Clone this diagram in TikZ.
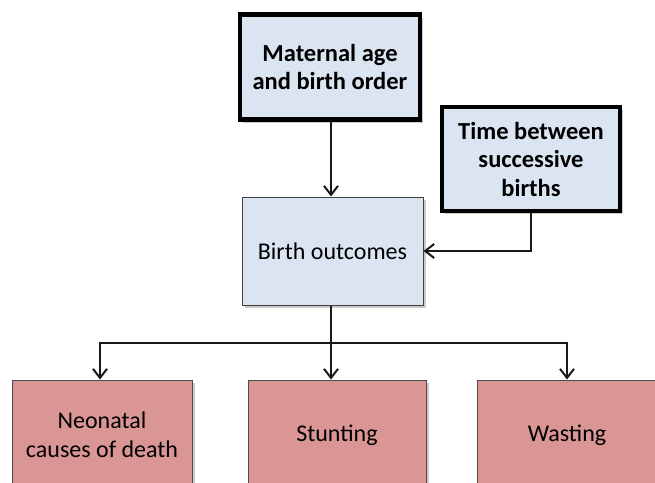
\documentclass[tikz,border=0pt]{standalone}
\usepackage{fontspec}
\setmainfont{Carlito}
\usetikzlibrary{arrows.meta,shadows}
\definecolor{boxblue}{HTML}{DBE5F1}
\definecolor{boxpink}{HTML}{D99694}
\tikzset{
  base/.style={rectangle, align=center, inner sep=0pt, font=\fontsize{24}{29}\selectfont,
    drop shadow={shadow xshift=3pt, shadow yshift=-3pt, fill=black!35, opacity=0.6}},
  topbox/.style={base, fill=boxblue, draw=black, line width=4.5pt, font=\fontsize{24.5}{28.5}\selectfont\bfseries},
  midbox/.style={base, fill=boxblue, draw=black!75, line width=1pt},
  outbox/.style={base, fill=boxpink, draw=black!70, line width=1pt},
  conn/.style={line width=2.4pt, draw=black!90, -{Straight Barb[length=9pt,width=14pt,line width=2pt]}},
  plain/.style={line width=2.4pt, draw=black!90}
}
\begin{document}
\begin{tikzpicture}[x=1pt,y=-1pt]
\useasboundingbox (0,0) rectangle (655,482);
\clip (0,0) rectangle (655,482);
\node[topbox, minimum width=180pt, minimum height=105pt] (mat) at (330,67) {Maternal age\\and birth order};
\node[topbox, minimum width=178pt, minimum height=104pt] (time) at (531,159) {Time between\\successive\\births};
\node[midbox, minimum width=181pt, minimum height=108pt] (bo) at (332.5,251) {Birth outcomes};
\node[outbox, minimum width=180pt, minimum height=110pt] (neo) at (102,435) {Neonatal\\causes of death};
\node[outbox, minimum width=178pt, minimum height=110pt] (stu) at (337,435) {Stunting};
\node[outbox, minimum width=180pt, minimum height=110pt] (was) at (567,435) {Wasting};
\coordinate (j) at (331,343);
\draw[conn] (mat.south -| 331,0) -- (bo.north -| 331,0);
\draw[conn] (time.south -| 531,0) |- (bo.east);
\draw[plain] (bo.south -| j) -- (j);
\draw[conn] (j) -| (neo.north -| 100,0);
\draw[conn] (j) -- (stu.north -| j);
\draw[conn] (j) -| (was.north);
\end{tikzpicture}
\end{document}
